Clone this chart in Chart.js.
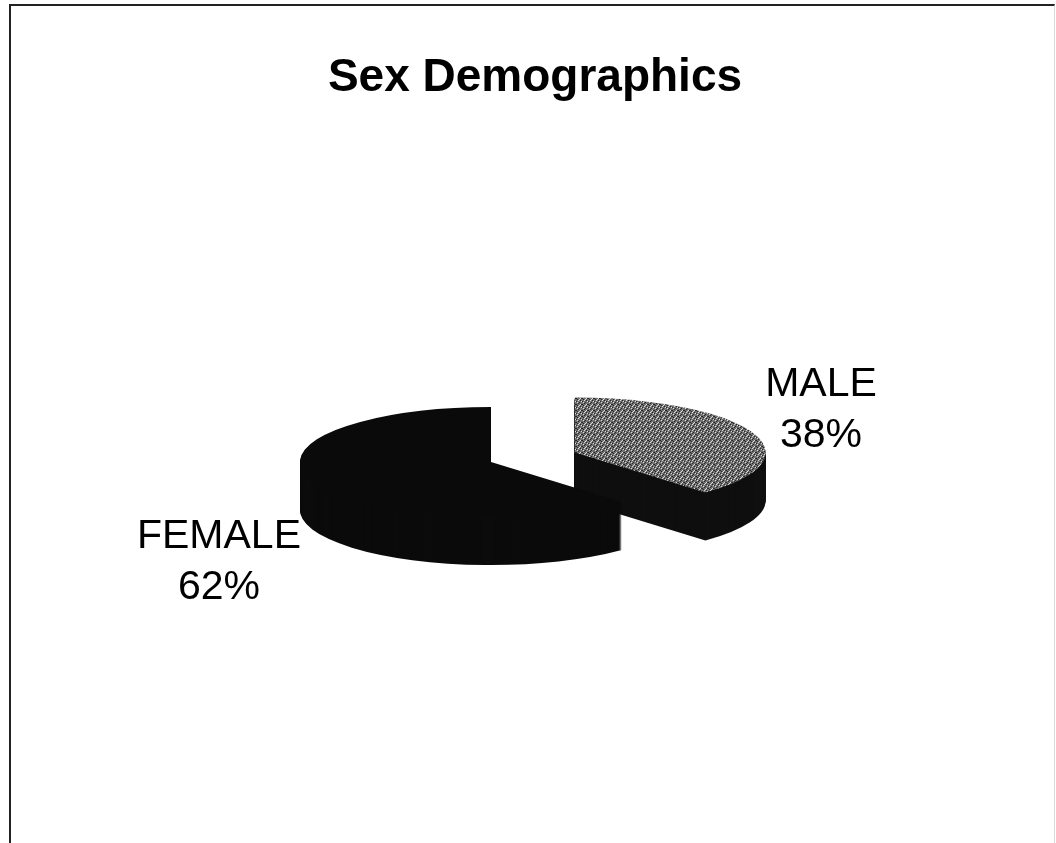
<!DOCTYPE html>
<html>
<head>
<meta charset="utf-8">
<script src="https://cdn.jsdelivr.net/npm/chart.js@4.4.1/dist/chart.umd.min.js"></script>
<style>
    html, body { margin: 0; padding: 0; background: #fff; overflow: hidden; }
    body { width: 1056px; height: 843px; position: relative; font-family: "Liberation Sans", Arial, sans-serif; }
    #frame {
        position: absolute; left: 9px; top: 4px; width: 1043px; height: 900px;
        border-top: 2px solid #222; border-left: 2px solid #222; border-right: 1px solid #d8d8d8;
    }
    #title {
        position: absolute; left: 235px; top: 52px; width: 600px; text-align: center;
        font-size: 46px; font-weight: bold; line-height: 1; color: #000;
    }
    .label {
        position: absolute; width: 220px; text-align: center;
        font-size: 41px; line-height: 51px; color: #000;
    }
    #chart { position: absolute; left: 0; top: 0; }
</style>
</head>
<body>
<div id="frame"></div>
<canvas id="chart" width="1056" height="843"></canvas>
<div id="title">Sex Demographics</div>
<div id="lblFemale" class="label" style="left:109px; top:509px;"></div>
<div id="lblMale" class="label" style="left:711px; top:357px;"></div>

<script>
/* Data */
const categories = ['FEMALE', 'MALE'];
const shares = [62, 38];

/* Look of the tilted pie */
const TILT = 0.288;   // vertical squash of the disc
const DEPTH = 48;     // thickness in screen pixels
const sideColors = ['#0b0b0b', '#0f0f0f'];

const canvas = document.getElementById('chart');
const ctx2d = canvas.getContext('2d');

// stippled grey for the male top face
const tile = document.createElement('canvas');
tile.width = 6; tile.height = 6;
const t = tile.getContext('2d');
t.fillStyle = '#727272';
t.fillRect(0, 0, 6, 6);
t.fillStyle = '#262626';
[[0, 0], [3, 1], [5, 3], [1, 4], [4, 5], [2, 2], [0, 3]].forEach(p => t.fillRect(p[0], p[1], 1, 1));
t.fillStyle = '#dcdcdc';
[[1, 1], [4, 3], [2, 5], [5, 0], [3, 4]].forEach(p => t.fillRect(p[0], p[1], 1, 1));
const stipple = ctx2d.createPattern(tile, 'repeat');
stipple.setTransform(new DOMMatrix([1, 0, 0, 1 / TILT, 0, 0]));

/* Draws the library's arcs as a flattened 3D pie */
const pie3d = {
    id: 'pie3d',
    beforeDatasetsDraw(chart) {
        const ctx = chart.ctx;
        const arcs = chart.getDatasetMeta(0).data;
        const cy = arcs[0].y;

        function slicePath(arc, dy) {
            const off = arc.options.offset || 0;
            const mid = (arc.startAngle + arc.endAngle) / 2;
            const x = arc.x + Math.cos(mid) * off;
            const y = arc.y + Math.sin(mid) * off + dy;
            ctx.beginPath();
            ctx.moveTo(x, y);
            ctx.arc(x, y, arc.outerRadius, arc.startAngle, arc.endAngle);
            ctx.closePath();
        }

        ctx.save();
        ctx.translate(0, cy * (1 - TILT));
        ctx.scale(1, TILT);
        for (let d = DEPTH; d > 0; d--) {
            arcs.forEach((arc, i) => {
                slicePath(arc, d / TILT);
                ctx.fillStyle = sideColors[i];
                ctx.fill();
            });
        }
        arcs.forEach(arc => {
            slicePath(arc, 0);
            ctx.fillStyle = arc.options.backgroundColor;
            ctx.fill();
        });
        ctx.restore();
        return false;
    }
};

const total = shares.reduce((a, b) => a + b, 0);

new Chart(canvas, {
    type: 'pie',
    data: {
        labels: categories,
        datasets: [{
            data: shares,
            backgroundColor: ['#0a0a0a', stipple],
            borderWidth: 0,
            offset: [0, 90]
        }]
    },
    options: {
        responsive: false,
        animation: false,
        events: [],
        rotation: 360 * (1 - shares[0] / total),
        radius: 191,
        layout: { padding: { left: 0, right: 74, top: 81, bottom: 0 } },
        plugins: {
            legend: { display: false },
            tooltip: { enabled: false },
            title: { display: false }
        }
    },
    plugins: [pie3d]
});

/* Slice labels */
document.getElementById('lblFemale').innerHTML = categories[0] + '<br>' + shares[0] + '%';
document.getElementById('lblMale').innerHTML = categories[1] + '<br>' + shares[1] + '%';
</script>
</body>
</html>
